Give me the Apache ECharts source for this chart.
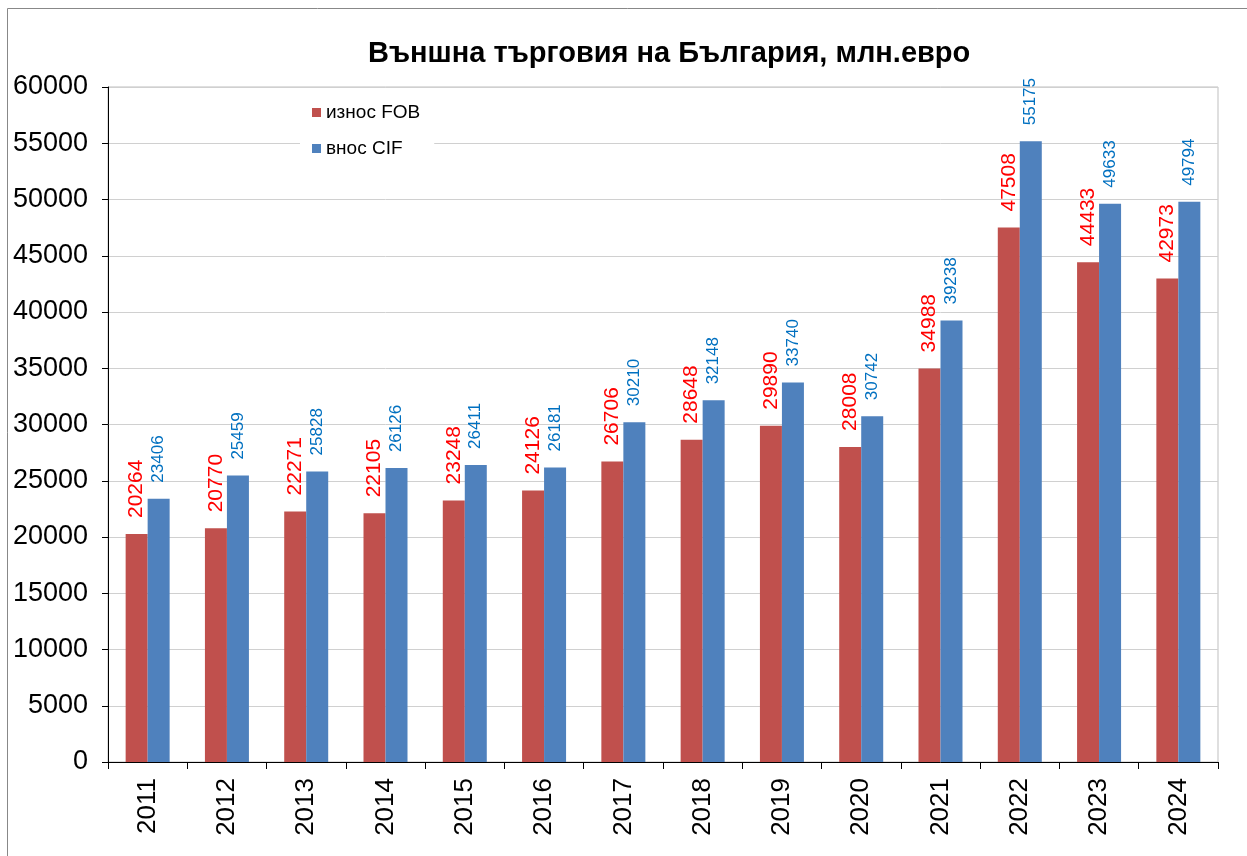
<!DOCTYPE html>
<html><head><meta charset="utf-8">
<script src="https://cdn.jsdelivr.net/npm/echarts@6/dist/echarts.min.js"></script>
<style>html,body{margin:0;padding:0;background:#fff}#c{width:1247px;height:856px}</style>
</head><body><div id="c"></div>
<script>
const years = ['2011','2012','2013','2014','2015','2016','2017','2018','2019','2020','2021','2022','2023','2024'];
const exportsFOB = [20264,20770,22271,22105,23248,24126,26706,28648,29890,28008,34988,47508,44433,42973];
const importsCIF = [23406,25459,25828,26126,26411,26181,30210,32148,33740,30742,39238,55175,49633,49794];
const seriesNames = ['износ FOB','внос CIF'];
const titleText = 'Външна търговия на България, млн.евро';

const chart = echarts.init(document.getElementById('c'), null, {renderer:'canvas'});
const font = 'Liberation Sans, Arial, sans-serif';
chart.setOption({
  animation:false,
  textStyle:{fontFamily:font},
  title:{text:titleText,left:363,top:34,
    textStyle:{fontFamily:font,fontSize:29,fontWeight:'bold',color:'#000'}},
  graphic:[{type:'rect',shape:{x:7.5,y:8.5,width:1300,height:900},
    style:{fill:'none',stroke:'#888',lineWidth:1},silent:true,z:-10}],
  legend:{orient:'vertical',left:300,top:99,itemGap:17,itemWidth:9,itemHeight:9,
    icon:'rect',backgroundColor:'#fff',padding:[4,14,4,12],
    textStyle:{fontFamily:font,fontSize:19,color:'#000'}, data:seriesNames},
  grid:{left:108,right:29,top:87,bottom:94,show:true,borderColor:'#BFBFBF',borderWidth:1},
  xAxis:{type:'category',data:years,
    axisLine:{lineStyle:{color:'#000',width:1}},
    axisTick:{show:true,length:7,lineStyle:{color:'#000'}},
    axisLabel:{rotate:90,fontSize:26,color:'#000',margin:16,fontFamily:font}},
  yAxis:{type:'value',min:0,max:60000,interval:5000,
    axisLine:{show:true,lineStyle:{color:'#000',width:1}},
    axisTick:{show:true,length:6,lineStyle:{color:'#000'}},
    splitLine:{lineStyle:{color:'#D0D0D0',width:1}},
    axisLabel:{fontSize:27,color:'#000',margin:20,fontFamily:font,formatter:v=>String(v)}},
  series:[
    {name:seriesNames[0],type:'bar',data:exportsFOB,barWidth:22,barGap:'0%',
     itemStyle:{color:'#C0504D'},
     label:{show:true,position:'top',rotate:90,align:'left',verticalAlign:'middle',distance:16,
       fontSize:21,color:'#FF0000',fontFamily:font}},
    {name:seriesNames[1],type:'bar',data:importsCIF,barWidth:22,
     itemStyle:{color:'#4F81BD'},
     label:{show:true,position:'top',rotate:90,align:'left',verticalAlign:'middle',distance:16,
       fontSize:17,color:'#0070C0',fontFamily:font}}
  ]
});
</script></body></html>
